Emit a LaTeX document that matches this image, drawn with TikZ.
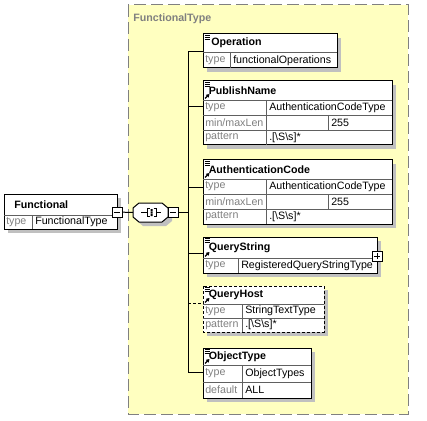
\documentclass[tikz,border=0pt]{standalone}
\usepackage{fontspec}
\setmainfont{Liberation Sans}
\usetikzlibrary{arrows.meta}

\tikzset{
  type area/.style={draw={rgb, 255:red, 128; green, 128; blue, 128}, fill={rgb, 255:red, 255; green, 255; blue, 192}, line width=0.75pt, dash pattern={on 9pt off 3.75pt}},
  area title/.style={anchor=west, inner sep=0pt, font=\fontsize{8}{9.6}\selectfont\bfseries, text={rgb, 255:red, 128; green, 128; blue, 128}},
  shade/.style={fill={rgb, 255:red, 192; green, 192; blue, 192}},
  el frame/.style={draw=black, fill=white, line width=0.75pt},
  opt frame/.style={el frame, dash pattern={on 2.25pt off 1.5pt}},
  cell/.style={draw={rgb, 255:red, 96; green, 96; blue, 96}, line width=0.6pt},
  doc mark/.style={draw=black, line width=0.6pt},
  ref arrow/.style={draw=black, line width=1pt, -{Triangle[length=2.4pt, width=2.8pt]}},
  el name/.style={anchor=west, inner sep=0pt, font=\fontsize{8}{9.6}\selectfont\bfseries},
  key/.style={anchor=west, inner sep=0pt, font=\fontsize{8}{9.6}\selectfont, text={rgb, 255:red, 128; green, 128; blue, 128}},
  val/.style={anchor=west, inner sep=0pt, font=\fontsize{8}{9.6}\selectfont},
  link/.style={draw=black, line width=0.75pt},
  opt link/.style={link, dash pattern={on 2.25pt off 1.5pt}},
  toggle/.style={draw=black, fill=white, line width=0.75pt, minimum size=7.5pt, inner sep=0pt},
  collapse/.style={path picture={\draw[line width=0.75pt] ([xshift=-2.4pt]path picture bounding box.center) -- ([xshift=2.4pt]path picture bounding box.center);}},
  expand/.style={path picture={\draw[line width=0.75pt] ([xshift=-2.4pt]path picture bounding box.center) -- ([xshift=2.4pt]path picture bounding box.center) ([yshift=-2.4pt]path picture bounding box.center) -- ([yshift=2.4pt]path picture bounding box.center);}},
}

\begin{document}
\begin{tikzpicture}[x=0.75pt,y=0.75pt,yscale=-1,xscale=1]
\useasboundingbox (0,0) rectangle (427,420);

%Shape: Rectangle [complex type area]
\draw[type area] (128,5) rectangle (408,414);
% Text Node
\node[area title] (ftype) at (133,19) {FunctionalType};

%Shape: Rectangle [Functional]
\fill[shade] (8,198) rectangle (121,233);
\draw[el frame] (4,194) rectangle (117,229);
\draw[cell] (4,215) -- (117,215) (32,215) -- (32,229);
% Text Node
\node[el name] (fn) at (14,204.5) {Functional};
\node[key] (fn-k1) at (6,222) {type};
\node[val] (fn-v1) at (35,222) {FunctionalType};
\node[toggle, collapse] (fn-minus) at (117,212) {};

%Shape: Octagon [sequence]
\fill[shade, shift={(4,4)}] (133,208) -- (139,203) -- (162,203) -- (168,208) -- (168,217) -- (162,222) -- (139,222) -- (133,217) -- cycle;
\draw[el frame] (133,208) -- (139,203) -- (162,203) -- (168,208) -- (168,217) -- (162,222) -- (139,222) -- (133,217) -- cycle;
\draw[link] (141,212.5) -- (147,212.5) (149.5,208.5) -- (147,208.5) -- (147,216.5) -- (149.5,216.5);
\draw[link] (156,212.5) -- (161,212.5) (153.5,208.5) -- (156,208.5) -- (156,216.5) -- (153.5,216.5);
\fill (150.5,209) rectangle (152.5,211) (150.5,211.5) rectangle (152.5,213.5) (150.5,214) rectangle (152.5,216);
\coordinate (seq-w) at (133,212.5);
\node[toggle, collapse] (seq-minus) at (173,212.5) {};

%Straight Lines [connectors]
\coordinate (spine-top) at (188,52);
\coordinate (spine-bot) at (188,372);
\draw[link] (fn-minus) -- (seq-w);
\draw[link] (seq-minus) -- (seq-minus -| spine-top);
\draw[link] (spine-top) -- (spine-bot);

%Shape: Rectangle [Operation]
\fill[shade] (207,38) rectangle (341,72);
\draw[el frame] (203,34) rectangle (337,68);
\draw[cell] (203,52) -- (337,52) (230,52) -- (230,68);
\draw[doc mark] (204.5,35.5) -- +(5,0) (204.5,37.5) -- +(5,0) (204.5,39.5) -- +(5,0);
% Text Node
\node[el name] (op) at (211,43) {Operation};
\node[key] (op-k1) at (205,60.5) {type};
\node[val] (op-v1) at (233,60.5) {functionalOperations};
\coordinate (op-in) at (203,52);
\draw[link] (spine-top |- op-in) -- (op-in);

%Shape: Rectangle [PublishName]
\fill[shade] (207,85) rectangle (396,149);
\draw[el frame] (203,81) rectangle (392,145);
\draw[cell] (203,100) -- (392,100) (203,115) -- (392,115) (203,130) -- (392,130) (266,100) -- (266,145) (328,115) -- (328,130);
\draw[doc mark] (204.5,82.5) -- +(5,0) (204.5,84.5) -- +(5,0) (204.5,86.5) -- +(5,0);
\draw[ref arrow] (205,98.5) -- (209.5,94);
% Text Node
\node[el name] (pn) at (208.5,90.5) {PublishName};
\node[key] (pn-k1) at (205,107.5) {type};
\node[val] (pn-v1) at (269,107.5) {AuthenticationCodeType};
\node[key] (pn-k2) at (205,122.5) {min/maxLen};
\node[val] (pn-v2) at (331,122.5) {255};
\node[key] (pn-k3) at (205,137.5) {pattern};
\node[val] (pn-v3) at (269,137.5) {.[\textbackslash S\textbackslash s]*};
\coordinate (pn-in) at (203,107);
\draw[link] (spine-top |- pn-in) -- (pn-in);

%Shape: Rectangle [AuthenticationCode]
\fill[shade] (207,164) rectangle (396,228);
\draw[el frame] (203,160) rectangle (392,224);
\draw[cell] (203,179) -- (392,179) (203,194) -- (392,194) (203,209) -- (392,209) (266,179) -- (266,224) (328,194) -- (328,209);
\draw[doc mark] (204.5,161.5) -- +(5,0) (204.5,163.5) -- +(5,0) (204.5,165.5) -- +(5,0);
\draw[ref arrow] (205,177.5) -- (209.5,173);
% Text Node
\node[el name] (ac) at (208.5,169.5) {AuthenticationCode};
\node[key] (ac-k1) at (205,186.5) {type};
\node[val] (ac-v1) at (269,186.5) {AuthenticationCodeType};
\node[key] (ac-k2) at (205,201.5) {min/maxLen};
\node[val] (ac-v2) at (331,201.5) {255};
\node[key] (ac-k3) at (205,216.5) {pattern};
\node[val] (ac-v3) at (269,216.5) {.[\textbackslash S\textbackslash s]*};
\coordinate (ac-in) at (203,187);
\draw[link] (spine-top |- ac-in) -- (ac-in);

%Shape: Rectangle [QueryString]
\fill[shade] (207,241) rectangle (381,277);
\draw[el frame] (203,237) rectangle (377,273);
\draw[cell] (203,258) -- (377,258) (238,258) -- (238,273);
\draw[doc mark] (204.5,238.5) -- +(5,0) (204.5,240.5) -- +(5,0) (204.5,242.5) -- +(5,0);
\draw[ref arrow] (205,256.5) -- (209.5,252);
% Text Node
\node[el name] (qs) at (208.5,247.5) {QueryString};
\node[key] (qs-k1) at (205,265.5) {type};
\node[val] (qs-v1) at (241,265.5) {RegisteredQueryStringType};
\node[toggle, expand] (qs-plus) at (377,256) {};
\coordinate (qs-in) at (203,253);
\draw[link] (spine-top |- qs-in) -- (qs-in);

%Shape: Rectangle [QueryHost, optional]
\fill[shade] (207,290) rectangle (328,336);
\draw[opt frame] (203,286) rectangle (324,332);
\draw[cell] (203,304) -- (324,304) (203,318) -- (324,318) (242,304) -- (242,332);
\draw[doc mark] (204.5,287.5) -- +(5,0) (204.5,289.5) -- +(5,0) (204.5,291.5) -- +(5,0);
\draw[ref arrow] (205,302.5) -- (209.5,298);
% Text Node
\node[el name] (qh) at (208.5,295) {QueryHost};
\node[key] (qh-k1) at (205,311) {type};
\node[val] (qh-v1) at (245,311) {StringTextType};
\node[key] (qh-k2) at (205,325) {pattern};
\node[val] (qh-v2) at (245,325) {.[\textbackslash S\textbackslash s]*};
\coordinate (qh-in) at (203,303);
\draw[opt link] (spine-top |- qh-in) -- (qh-in);

%Shape: Rectangle [ObjectType]
\fill[shade] (207,352) rectangle (315,402);
\draw[el frame] (203,348) rectangle (311,398);
\draw[cell] (203,365) -- (311,365) (203,382) -- (311,382) (242,365) -- (242,398);
\draw[doc mark] (204.5,349.5) -- +(5,0) (204.5,351.5) -- +(5,0) (204.5,353.5) -- +(5,0);
\draw[ref arrow] (205,363.5) -- (209.5,359);
% Text Node
\node[el name] (ot) at (208.5,356.5) {ObjectType};
\node[key] (ot-k1) at (205,373.5) {type};
\node[val] (ot-v1) at (245,373.5) {ObjectTypes};
\node[key] (ot-k2) at (205,390) {default};
\node[val] (ot-v2) at (245,390) {ALL};
\coordinate (ot-in) at (203,372);
\draw[link] (spine-top |- ot-in) -- (ot-in);

\end{tikzpicture}
\end{document}
